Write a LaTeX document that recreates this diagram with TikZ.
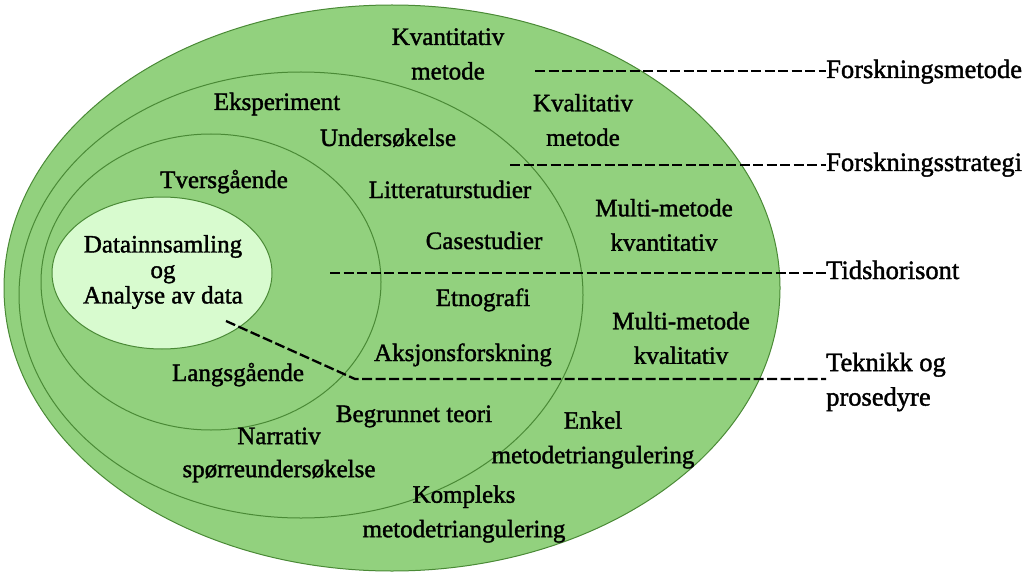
\documentclass[tikz,border=0pt]{standalone}
\usepackage{fontspec}
\setmainfont{Liberation Serif}
\newfontfamily\lblfont{Liberation Serif}[FakeBold=1.5]
\usetikzlibrary{shapes.geometric}
\definecolor{ringfill}{HTML}{92D17E}
\definecolor{ringline}{HTML}{4A8A36}
\definecolor{corefill}{HTML}{D8FBCF}
\begin{document}
\begin{tikzpicture}[x=1pt,y=-1pt,
  ring/.style={ellipse,draw=ringline,line width=1pt,fill=ringfill,inner sep=0pt},
  core/.style={ellipse,draw=ringline,line width=1pt,fill=corefill,inner sep=0pt},
  lbl/.style={font=\lblfont\fontsize{25}{34.5}\selectfont,align=center,inner sep=0pt},
  one/.style={lbl,text height=17pt,text depth=5pt},
  tight/.style={font=\lblfont\fontsize{25}{25.5}\selectfont},
  side/.style={lbl,anchor=west,align=left,font=\lblfont\fontsize{26.5}{34.5}\selectfont},
  guide/.style={line width=2.3pt,dash pattern=on 10pt off 3.5pt}]
\useasboundingbox (0,0) rectangle (1024,572);

% nested layers
\node[ring,minimum width=776pt,minimum height=566pt] (method) at (392,288) {};
\node[ring,minimum width=564pt,minimum height=446pt] (strategy) at (301,295) {};
\node[ring,minimum width=340pt,minimum height=296pt] (horizon) at (211,282) {};
\node[core,minimum width=220pt,minimum height=152pt] (data) at (162,273) {};

% core text
\node[lbl,tight] (datatxt) at (163,272) {Datainnsamling\\og\\Analyse av data};

% research methods
\node[lbl] (kvant) at (448,54) {Kvantitativ\\metode};
\node[lbl] (kval) at (583,120) {Kvalitativ\\metode};
\node[lbl] (mmkvant) at (664,225) {Multi-metode\\kvantitativ};
\node[lbl] (mmkval) at (681,338) {Multi-metode\\kvalitativ};
\node[lbl] (enkel) at (593,440) {Enkel\\metodetriangulering};
\node[lbl] (kompleks) at (464,514) {Kompleks\\metodetriangulering};

% research strategies
\node[one] (eksp) at (277,104) {Eksperiment};
\node[one] (unders) at (388,140) {Undersøkelse};
\node[one] (litt) at (450,192) {Litteraturstudier};
\node[one] (case) at (484,243) {Casestudier};
\node[one] (etno) at (483,300) {Etnografi};
\node[one] (aksjon) at (463,355) {Aksjonsforskning};
\node[one] (begr) at (414,416) {Begrunnet teori};
\node[lbl,font=\lblfont\fontsize{25}{33}\selectfont] (narr) at (279,455) {Narrativ\\spørreundersøkelse};

% time horizons
\node[one] (tvers) at (224,182) {Tversgående};
\node[one] (langs) at (238,375) {Langsgående};

% layer names
\node[side,text height=17pt,text depth=5pt] (lmetode) at (826,72) {Forskningsmetode};
\node[side,text height=17pt,text depth=5pt] (lstrategi) at (826,165) {Forskningsstrategi};
\node[side,text height=17pt,text depth=5pt] (lhorisont) at (826,273) {Tidshorisont};
\node[side] (lteknikk) at (826,382) {Teknikk og\\prosedyre};

% leader lines
\coordinate (pmetode) at (535,71);
\coordinate (pstrategi) at (510,165);
\coordinate (phorisont) at (330,273);
\coordinate (pteknikk) at (226,321);
\coordinate (bend) at (355,379);
\draw[guide] (pmetode) -- (lmetode.west |- pmetode);
\draw[guide] (pstrategi) -- (lstrategi.west |- pstrategi);
\draw[guide] (phorisont) -- (lhorisont.west |- phorisont);
\draw[guide] (pteknikk) -- (bend) -- (lteknikk.west |- bend);
\end{tikzpicture}
\end{document}
